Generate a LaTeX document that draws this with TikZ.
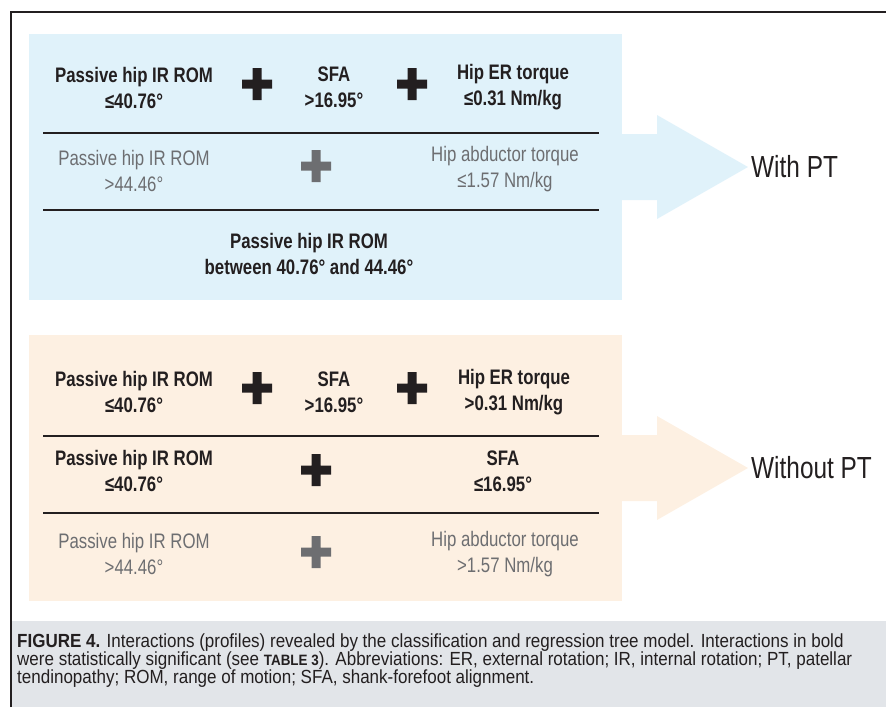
\documentclass[tikz,border=0pt]{standalone}
\usepackage{fontspec}
\setmainfont{Liberation Sans}[FakeStretch=0.8]
\newfontfamily\capfamily{Liberation Sans}[FakeStretch=0.895]
\usepackage{tikz}
\usetikzlibrary{positioning, calc}
\usepackage{xcolor}
\definecolor{cWith}{RGB}{224,242,250}
\definecolor{cWithout}{RGB}{253,240,226}
\definecolor{cCaption}{RGB}{226,229,233}
\definecolor{cInk}{RGB}{35,31,32}
\definecolor{cMuted}{RGB}{109,110,113}
\newcommand{\rowfont}{\fontsize{21}{26}\selectfont}
\newcommand{\outfont}{\fontsize{30.5}{36}\selectfont}
\newcommand{\capfont}{\capfamily\fontsize{19}{18}\selectfont}

\begin{document}
\begin{tikzpicture}[x=1pt, y=-1pt,
  panel/.style={anchor=north west, inner sep=0, outer sep=0, minimum width=593pt, minimum height=266pt},
  sig/.style={align=center, inner sep=0, text=cInk, font=\rowfont\bfseries},
  nsig/.style={align=center, inner sep=0, text=cMuted, font=\rowfont},
  sep/.style={line width=2pt, draw=cInk},
  outcome/.style={anchor=west, inner sep=0, text=cInk, font=\outfont},
  capline/.style={anchor=base west, inner sep=0, text=cInk, font=\capfont},
  plusmark/.pic={\fill (-15,-4.5) rectangle (15,4.5) (-4.5,-16) rectangle (4.5,16);}]
  \useasboundingbox (0,0) rectangle (886,707);

  % with PT
  \node[panel, fill=cWith] (wbox) at (29,34) {};
  \fill[cWith] ([yshift=33pt]wbox.east) -- ++(35,0) -- ++(0,-19) -- ++(91,52) -- ++(-91,52) -- ++(0,-19) -- ++(-35,0) -- cycle;
  \node[outcome] (wlab) at ([xshift=129pt]wbox.east) {With PT};
  \node[sig] (w1a) at (134,87.5) {Passive hip IR ROM\\≤40.76°};
  \node[sig] (w1b) at (334,87.5) {SFA\\>16.95°};
  \node[sig] (w1c) at (513,87.5) {Hip ER torque\\≤0.31 Nm/kg};
  \pic[cInk] at (257,84) {plusmark};
  \pic[cInk] at (412,84) {plusmark};
  \draw[sep] (43,133) -- (599,133);
  \node[nsig] (w2a) at (134,171) {Passive hip IR ROM\\>44.46°};
  \node[nsig] (w2b) at (505,169) {Hip abductor torque\\≤1.57 Nm/kg};
  \pic[cMuted] at (316,166) {plusmark};
  \draw[sep] (43,210) -- (599,210);
  \node[sig] (w3a) at (309,254) {Passive hip IR ROM\\between 40.76° and 44.46°};

  % without PT
  \node[panel, fill=cWithout] (nbox) at (29,335) {};
  \fill[cWithout] ([yshift=33pt]nbox.east) -- ++(35,0) -- ++(0,-19) -- ++(91,52) -- ++(-91,52) -- ++(0,-19) -- ++(-35,0) -- cycle;
  \node[outcome] (nlab) at ([xshift=129pt]nbox.east) {Without PT};
  \node[sig] (n1a) at (134,392) {Passive hip IR ROM\\≤40.76°};
  \node[sig] (n1b) at (334,392) {SFA\\>16.95°};
  \node[sig] (n1c) at (514,392) {Hip ER torque\\>0.31 Nm/kg};
  \pic[cInk] at (257,388) {plusmark};
  \pic[cInk] at (412,388) {plusmark};
  \draw[sep] (43,436) -- (599,436);
  \node[sig] (n2a) at (134,471) {Passive hip IR ROM\\≤40.76°};
  \node[sig] (n2b) at (503,471) {SFA\\≤16.95°};
  \pic[cInk] at (316,470) {plusmark};
  \draw[sep] (43,513) -- (599,513);
  \node[nsig] (n3a) at (134,554) {Passive hip IR ROM\\>44.46°};
  \node[nsig] (n3b) at (505,554) {Hip abductor torque\\>1.57 Nm/kg};
  \pic[cMuted] at (316,552) {plusmark};

  % frame and caption
  \fill[cCaption] (12,621) rectangle (886,707);
  \draw[cInk, line width=1.3pt] (11,707) -- (11,12) -- (886,12);
  \node[capline] (cap1) at (17,647) {\textbf{FIGURE 4.} Interactions (profiles) revealed by the classification and regression tree model. Interactions in bold};
  \node[capline] (cap2) at (17,665) {were statistically significant (see {\fontsize{15}{18}\selectfont\bfseries TABLE 3}). Abbreviations: ER, external rotation; IR, internal rotation; PT, patellar};
  \node[capline] (cap3) at (17,683) {tendinopathy; ROM, range of motion; SFA, shank-forefoot alignment.};
\end{tikzpicture}
\end{document}
